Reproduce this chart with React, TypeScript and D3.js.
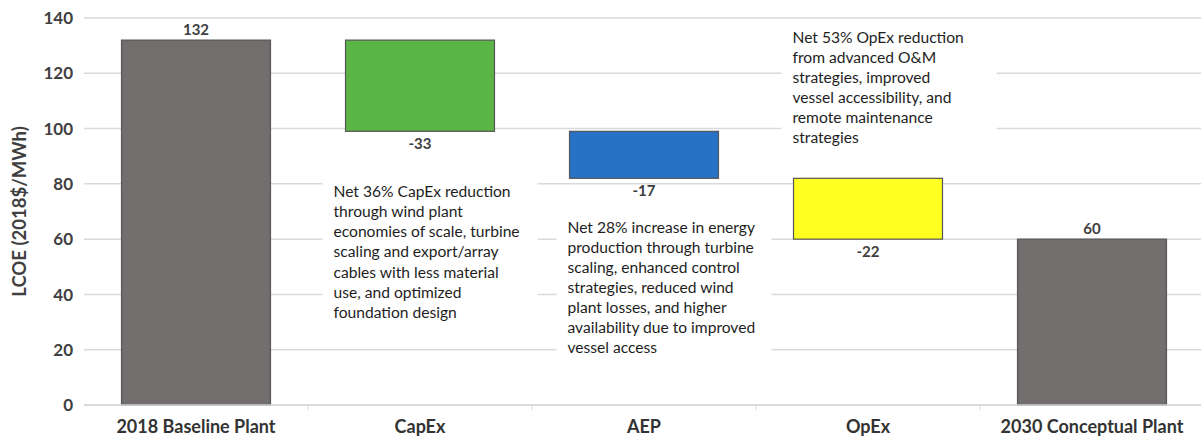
import React from "react";
import * as d3 from "d3";

const categories = ["2018 Baseline Plant", "CapEx", "AEP", "OpEx", "2030 Conceptual Plant"];
const values = [132, -33, -17, -22, 60];
const kinds = ["total", "delta", "delta", "delta", "total"];
const barColors = ["#736e6e", "#5bb446", "#2872c6", "#ffff20", "#736e6e"];
const yTicks = [0, 20, 40, 60, 80, 100, 120, 140];
const noteCats = ["CapEx", "AEP", "OpEx"];
const noteAnchors = [75.2, 62.3, 131];
const noteLines = [
  ["Net 36% CapEx reduction", "through wind plant", "economies of scale, turbine", "scaling and export/array", "cables with less material", "use, and optimized", "foundation design"],
  ["Net 28% increase in energy", "production through turbine", "scaling, enhanced control", "strategies, reduced wind", "plant losses, and higher", "availability due to improved", "vessel access"],
  ["Net 53% OpEx reduction", "from advanced O&M", "strategies, improved", "vessel accessibility, and", "remote maintenance", "strategies"],
];

const W = 1201, H = 438;
const left = 84, right = 1204, top = 18, bottom = 405;
const font = "Lato, 'Open Sans', sans-serif";
const noteDx = [-12, -2, -1];

export default function App() {
  const x = d3.scaleBand<string>().domain(categories).range([left, right]).paddingInner(0.335).paddingOuter(0.1675);
  const y = d3.scaleLinear().domain([0, 140]).range([bottom, top]);

  let run = 0;
  const bars = values.map((v, i) => {
    let y0: number, y1: number;
    if (kinds[i] === "total") { y0 = 0; y1 = v; run = v; }
    else { y0 = run + v; y1 = run; run = run + v; }
    return { cat: categories[i], v, y0, y1, color: barColors[i], kind: kinds[i] };
  });

  return (
    <svg width={W} height={H} style={{ position: "absolute", left: 0, top: 0, background: "#fff" }}>
      {yTicks.map(t => (
        <g key={t}>
          <line x1={left} x2={W} y1={y(t)} y2={y(t)} stroke="#d9d9d9" strokeWidth={1.5} />
          <text x={73} y={y(t)} dy="0.36em" textAnchor="end" fontFamily={font} fontWeight={700} fontSize={17} fill="#404040">{t}</text>
        </g>
      ))}
      {categories.slice(1).map((c, i) => {
        const xb = (x(categories[i])! + x.bandwidth() + x(c)!) / 2;
        return <line key={c} x1={xb} x2={xb} y1={bottom} y2={bottom + 5} stroke="#d9d9d9" strokeWidth={1} />;
      })}
      <text transform={`translate(26,${(top + bottom) / 2}) rotate(-90)`} textAnchor="middle" fontFamily={font} fontWeight={700} fontSize={18.5} fill="#404040">LCOE (2018$/MWh)</text>
      {noteCats.map((cat, k) => {
        const x0 = x(cat)! + noteDx[k];
        const ty = y(noteAnchors[k]);
        const lines = noteLines[k];
        return (
          <g key={cat}>
            <rect x={x0 - 11} y={ty - 20} width={215} height={lines.length * 20 + 12} fill="#fff" />
            {lines.map((l, i) => (
              <text key={i} x={x0} y={ty + i * 20.1} fontFamily={font} fontSize={15.6} fill="#1e1e1e">{l}</text>
            ))}
          </g>
        );
      })}
      {bars.map(b => (
        <g key={b.cat}>
          <rect x={x(b.cat)} y={y(b.y1)} width={x.bandwidth()} height={y(b.y0) - y(b.y1)} fill={b.color} stroke="#555" strokeWidth={1.2} />
          {b.kind === "total" ? (
            <text x={x(b.cat)! + x.bandwidth() / 2} y={y(b.y1) - 5} textAnchor="middle" fontFamily={font} fontWeight={700} fontSize={15} fill="#404040">{b.v}</text>
          ) : (
            <text x={x(b.cat)! + x.bandwidth() / 2} y={y(b.y0) + 18} textAnchor="middle" fontFamily={font} fontWeight={700} fontSize={15} fill="#404040">{b.v}</text>
          )}
        </g>
      ))}
      <line x1={left} x2={W} y1={bottom} y2={bottom} stroke="#d9d9d9" strokeWidth={1.5} />
      {categories.map(c => (
        <text key={c} x={x(c)! + x.bandwidth() / 2} y={433} textAnchor="middle" fontFamily={font} fontWeight={700} fontSize={18} fill="#333">{c}</text>
      ))}
    </svg>
  );
}
